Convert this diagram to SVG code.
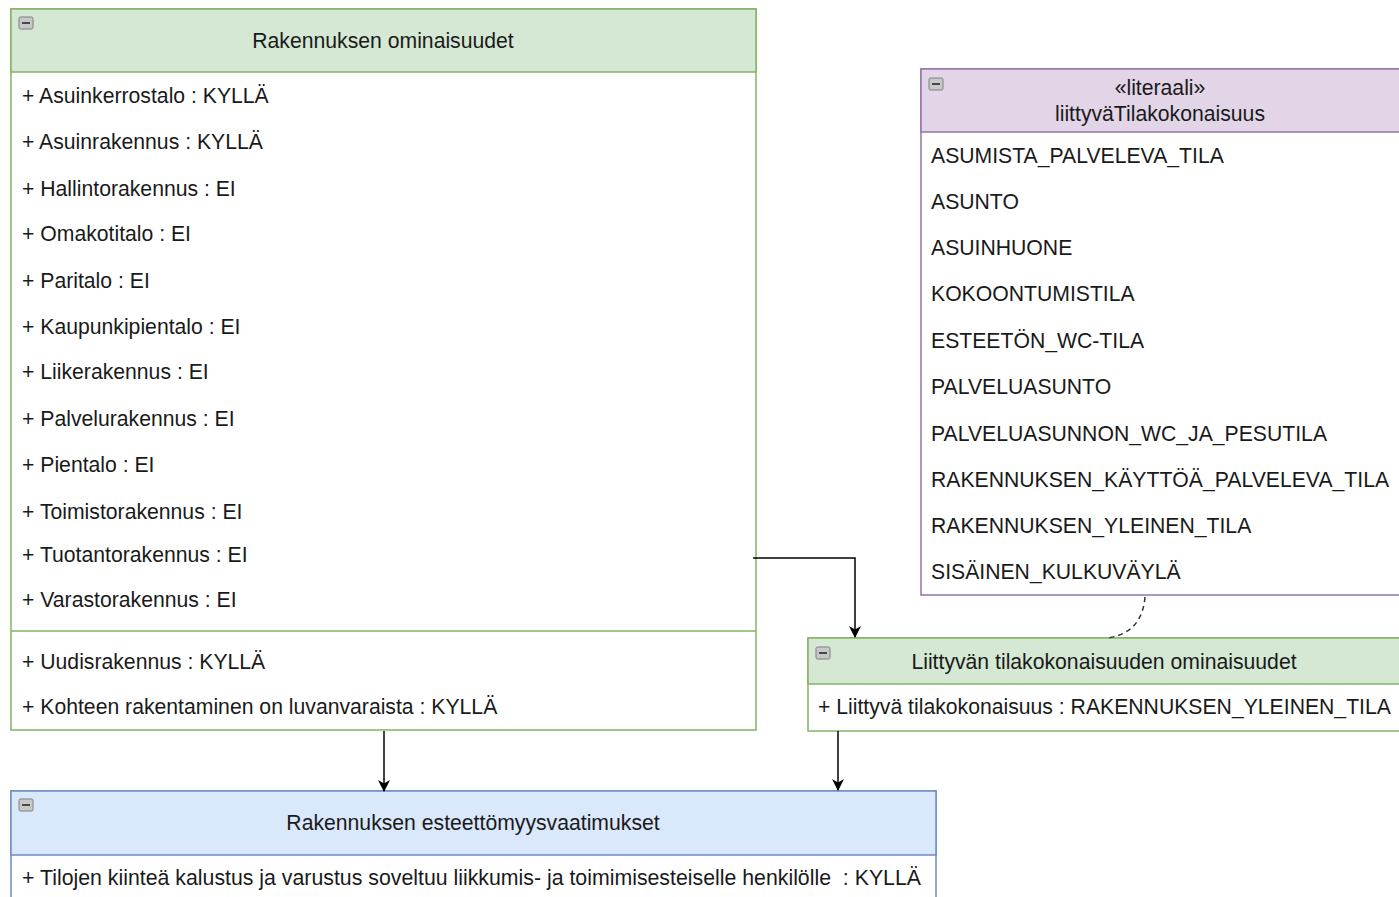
<svg xmlns="http://www.w3.org/2000/svg" width="1399" height="897" viewBox="0 0 1399 897">
  <style>
    text { font-family: "Liberation Sans", Arial, sans-serif; font-size: 21.2px; fill: #1a1a1a; }
    .hdr { text-anchor: middle; }
    .green-h { fill: #d5e8d4; stroke: #82b366; stroke-width: 1.5; }
    .green-b { fill: #ffffff; stroke: #82b366; stroke-width: 1.5; }
    .purple-h { fill: #e1d5e7; stroke: #9673a6; stroke-width: 1.5; }
    .purple-b { fill: #ffffff; stroke: #9673a6; stroke-width: 1.5; }
    .blue-h { fill: #dae8fc; stroke: #6c8ebf; stroke-width: 1.5; }
    .blue-b { fill: #ffffff; stroke: #6c8ebf; stroke-width: 1.5; }
    .edge { fill: none; stroke: #000000; stroke-width: 1.5; }
    .dash { fill: none; stroke: #333333; stroke-width: 1.5; stroke-dasharray: 5 4; }
  </style>
  <defs>
    <marker id="arrow" viewBox="0 0 12 12" refX="11" refY="6" markerWidth="12" markerHeight="12" markerUnits="userSpaceOnUse" orient="auto">
      <path d="M0,0 L12,6 L0,12 L3.5,6 Z" fill="#000000"/>
    </marker>
    <g id="collapse">
      <rect x="0" y="0" width="14" height="12" rx="1.5" fill="#c8c8c8" stroke="#7f7f7f" stroke-width="1"/>
      <line x1="3" y1="6" x2="11" y2="6" stroke="#3a3a3a" stroke-width="1.8"/>
    </g>
  </defs>

  <rect width="1399" height="897" fill="#ffffff"/>

  <!-- Building properties class -->
  <g id="rakennuksen-ominaisuudet">
    <rect class="green-b" x="11" y="9" width="745" height="721"/>
    <rect class="green-h" x="11" y="9" width="745" height="63"/>
    <line x1="11" y1="631" x2="756" y2="631" stroke="#82b366" stroke-width="1.5"/>
    <use href="#collapse" x="19" y="17"/>
    <text class="hdr" x="383" y="48">Rakennuksen ominaisuudet</text>
    <text x="22" y="103">+ Asuinkerrostalo : KYLLÄ</text>
    <text x="22" y="149">+ Asuinrakennus : KYLLÄ</text>
    <text x="22" y="196">+ Hallintorakennus : EI</text>
    <text x="22" y="241">+ Omakotitalo : EI</text>
    <text x="22" y="288">+ Paritalo : EI</text>
    <text x="22" y="334">+ Kaupunkipientalo : EI</text>
    <text x="22" y="379">+ Liikerakennus : EI</text>
    <text x="22" y="426">+ Palvelurakennus : EI</text>
    <text x="22" y="472">+ Pientalo : EI</text>
    <text x="22" y="519">+ Toimistorakennus : EI</text>
    <text x="22" y="562">+ Tuotantorakennus : EI</text>
    <text x="22" y="607">+ Varastorakennus : EI</text>
    <text x="22" y="669">+ Uudisrakennus : KYLLÄ</text>
    <text x="22" y="714">+ Kohteen rakentaminen on luvanvaraista : KYLLÄ</text>
  </g>

  <!-- Literal enumeration -->
  <g id="liittyva-tilakokonaisuus">
    <rect class="purple-b" x="921" y="69" width="490" height="526"/>
    <rect class="purple-h" x="921" y="69" width="490" height="63"/>
    <use href="#collapse" x="929" y="78"/>
    <text class="hdr" x="1160" y="95">«literaali»</text>
    <text class="hdr" x="1160" y="121">liittyväTilakokonaisuus</text>
    <text x="931" y="163">ASUMISTA_PALVELEVA_TILA</text>
    <text x="931" y="209">ASUNTO</text>
    <text x="931" y="255">ASUINHUONE</text>
    <text x="931" y="301">KOKOONTUMISTILA</text>
    <text x="931" y="348">ESTEETÖN_WC-TILA</text>
    <text x="931" y="394">PALVELUASUNTO</text>
    <text x="931" y="441">PALVELUASUNNON_WC_JA_PESUTILA</text>
    <text x="931" y="487">RAKENNUKSEN_KÄYTTÖÄ_PALVELEVA_TILA</text>
    <text x="931" y="533">RAKENNUKSEN_YLEINEN_TILA</text>
    <text x="931" y="579">SISÄINEN_KULKUVÄYLÄ</text>
  </g>

  <!-- Related space properties class -->
  <g id="liittyvan-tilakokonaisuuden-ominaisuudet">
    <rect class="green-b" x="808" y="638" width="603" height="93"/>
    <rect class="green-h" x="808" y="638" width="603" height="46"/>
    <use href="#collapse" x="816" y="647"/>
    <text class="hdr" x="1104" y="669">Liittyvän tilakokonaisuuden ominaisuudet</text>
    <text x="818" y="714">+ Liittyvä tilakokonaisuus : RAKENNUKSEN_YLEINEN_TILA</text>
  </g>

  <!-- Accessibility requirements class -->
  <g id="rakennuksen-esteettomyysvaatimukset">
    <rect class="blue-b" x="11" y="791" width="925" height="120"/>
    <rect class="blue-h" x="11" y="791" width="925" height="64"/>
    <use href="#collapse" x="19" y="799"/>
    <text class="hdr" x="473" y="830">Rakennuksen esteettömyysvaatimukset</text>
    <text x="22" y="885" textLength="899" lengthAdjust="spacingAndGlyphs">+ Tilojen kiinteä kalustus ja varustus soveltuu liikkumis- ja toimimisesteiselle henkilölle&#160; : KYLLÄ</text>
  </g>

  <!-- Connectors -->
  <g id="connectors">
    <path class="edge" d="M753,558 H855 V637" marker-end="url(#arrow)"/>
    <path class="edge" d="M384,731 V791" marker-end="url(#arrow)"/>
    <path class="edge" d="M838,731 V790" marker-end="url(#arrow)"/>
    <path class="dash" d="M1145,597 C1143,620 1132,634 1108,638"/>
  </g>
</svg>
